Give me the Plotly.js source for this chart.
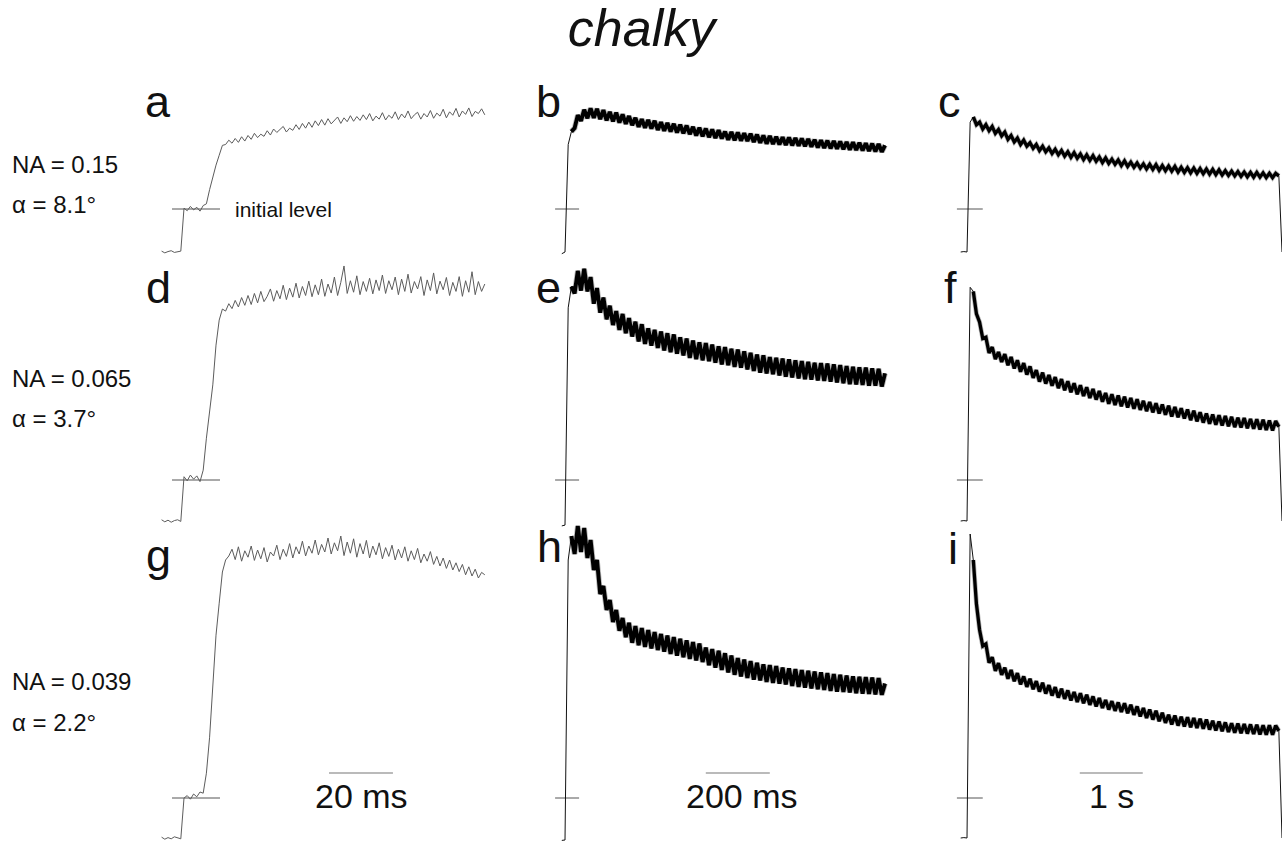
<!DOCTYPE html>
<html><head><meta charset="utf-8">
<script src="https://cdn.plot.ly/plotly-3.0.1.min.js"></script>
<style>html,body{margin:0;padding:0;background:#fff}#chart{width:1282px;height:841px}</style>
</head><body><div id="chart"></div>
<script>
// ---------------- DATA ----------------
// Relative signal: 0 = dark baseline, 1 = initial level.
const panelLetters = ['a','b','c','d','e','f','g','h','i'];
const naLabels = ['NA = 0.15','NA = 0.065','NA = 0.039'];
const alphaLabels = ['\u03b1 = 8.1\u00b0','\u03b1 = 3.7\u00b0','\u03b1 = 2.2\u00b0'];
const scaleBarLengths = [20, 200, 1];
const scaleBarLabels = ['20 ms','200 ms','1 s'];
const initialLevel = 1;
// sampling of each column: start time and step (ms, ms, s)
const sampleStart = [-7, -10, -0.1];
const sampleStep  = [1, 10, 0.05];

// column 1 (ms)
const traceA = [0.02,-0.02,0.01,0.03,-0.01,0.00,0.02,
1.02,0.96,1.06,0.98,1.04,0.95,1.08,
1.12,1.45,1.75,2.02,2.25,2.48,
2.50,2.60,2.53,2.64,2.55,2.68,2.58,2.71,2.62,2.76,
2.66,2.74,2.69,2.82,2.72,2.86,2.78,2.84,2.92,2.79,
2.88,2.83,2.96,2.85,2.99,2.88,3.02,2.90,3.05,2.94,
3.08,2.95,3.10,2.98,3.06,3.14,2.99,3.12,3.03,3.17,
3.04,3.15,3.06,3.19,3.08,3.22,3.05,3.16,3.09,3.24,
3.07,3.18,3.11,3.26,3.08,3.21,3.12,3.28,3.10,3.19,
3.25,3.09,3.22,3.14,3.29,3.11,3.23,3.16,3.32,3.12,
3.26,3.18,3.34,3.14,3.28,3.20,3.35,3.15,3.27,3.22,
3.33,3.19];
const traceD = [0.03,-0.02,0.02,-0.03,0.01,0.03,-0.01,
1.08,0.98,1.12,1.02,1.10,0.96,
1.24,2.02,2.68,3.32,4.29,4.90,5.17,
5.12,5.30,5.18,5.38,5.22,5.45,5.26,5.50,5.28,5.55,
5.32,5.60,5.35,5.48,5.66,5.36,5.62,5.42,5.75,5.40,
5.68,5.46,5.80,5.44,5.72,5.50,5.85,5.47,5.76,5.52,
5.90,5.48,5.78,5.56,5.95,5.50,5.82,6.22,5.55,5.86,
5.58,5.98,5.52,5.84,5.60,5.92,5.54,5.88,5.62,6.00,
5.55,5.86,5.64,5.95,5.52,5.90,5.60,6.02,5.56,5.84,
5.66,5.96,5.50,5.88,5.62,6.05,5.54,5.85,5.64,5.94,
5.50,5.82,5.60,5.96,5.48,5.86,5.58,6.08,5.52,5.84,
5.60,5.78];
const traceG = [0.02,-0.03,0.01,-0.02,0.03,0.00,-0.02,
1.00,1.06,0.97,1.10,1.03,1.15,
1.12,1.62,2.52,3.87,5.07,5.87,6.65,6.95,7.05,
7.22,6.96,7.28,6.92,7.18,7.02,7.30,6.94,7.20,6.98,
7.26,6.90,7.15,7.05,7.32,6.96,7.22,7.04,7.36,7.00,
7.28,7.10,7.42,7.05,7.30,7.12,7.45,7.08,7.34,7.15,
7.50,7.10,7.38,7.18,7.55,7.06,7.40,7.12,7.48,7.02,
7.36,7.10,7.44,7.00,7.30,7.08,7.38,6.98,7.26,7.04,
7.32,6.95,7.22,7.00,7.28,6.92,7.18,6.96,7.24,6.88,
7.10,6.92,7.16,6.84,7.04,6.80,7.00,6.74,6.95,6.70,
6.88,6.66,6.84,6.58,6.78,6.55,6.72,6.50,6.64,6.58];

// column 2 (ms)
const traceB = [-0.04,0.00,2.50,2.80,2.88,3.18,3.05,3.31,3.11,3.34,
3.12,3.33,3.09,3.30,3.06,3.26,3.04,3.24,3.01,3.20,
2.98,3.16,2.95,3.12,2.91,3.09,2.89,3.07,2.87,3.05,
2.84,3.02,2.82,3.00,2.80,2.98,2.78,2.96,2.76,2.94,
2.74,2.91,2.71,2.89,2.69,2.87,2.67,2.85,2.65,2.83,
2.64,2.80,2.61,2.79,2.60,2.78,2.59,2.76,2.58,2.75,
2.56,2.73,2.54,2.71,2.52,2.70,2.51,2.68,2.50,2.67,
2.49,2.66,2.48,2.65,2.47,2.64,2.46,2.63,2.45,2.61,
2.43,2.60,2.42,2.59,2.41,2.58,2.40,2.57,2.39,2.56,
2.38,2.55,2.37,2.54,2.36,2.53,2.35,2.52,2.34,2.51,
2.33,2.48];
const traceE = [-0.12,-0.10,5.20,5.72,5.55,6.10,5.62,6.15,5.60,5.95,
5.30,5.68,5.08,5.45,4.92,5.25,4.78,5.12,4.66,5.05,
4.58,4.95,4.50,4.86,4.38,4.80,4.32,4.70,4.28,4.66,
4.22,4.62,4.16,4.58,4.12,4.55,4.08,4.48,4.04,4.45,
3.98,4.40,3.95,4.36,3.92,4.34,3.90,4.30,3.86,4.26,
3.82,4.24,3.80,4.20,3.76,4.18,3.74,4.14,3.70,4.10,
3.66,4.06,3.62,4.04,3.60,4.00,3.58,3.98,3.55,3.96,
3.52,3.94,3.50,3.92,3.48,3.90,3.46,3.88,3.45,3.86,
3.43,3.85,3.42,3.84,3.40,3.82,3.38,3.80,3.36,3.78,
3.34,3.76,3.33,3.75,3.32,3.74,3.30,3.72,3.30,3.71,
3.28,3.60];
const traceH = [-0.06,-0.05,6.95,7.55,7.10,7.80,7.15,7.75,7.00,7.45,
6.70,6.95,6.10,6.30,5.70,5.95,5.40,5.70,5.18,5.50,
5.02,5.38,4.88,5.30,4.82,5.25,4.78,5.20,4.74,5.15,
4.70,5.10,4.66,5.06,4.60,5.02,4.56,4.98,4.52,4.94,
4.48,4.90,4.44,4.86,4.40,4.76,4.32,4.72,4.26,4.68,
4.20,4.62,4.14,4.56,4.08,4.50,4.04,4.46,4.00,4.42,
3.96,4.38,3.94,4.34,3.90,4.32,3.88,4.30,3.86,4.26,
3.84,4.24,3.80,4.22,3.78,4.20,3.76,4.18,3.74,4.16,
3.72,4.14,3.70,4.12,3.68,4.10,3.66,4.08,3.65,4.06,
3.64,4.04,3.62,4.03,3.61,4.02,3.60,4.01,3.59,4.00,
3.58,3.86];

// column 3 (s)
const traceC = [0.00,0.01,0.00,3.02,3.14,2.96,3.02,2.86,2.96,2.82,
2.92,2.76,2.85,2.70,2.79,2.62,2.71,2.56,2.65,2.50,
2.60,2.46,2.54,2.41,2.50,2.36,2.46,2.33,2.42,2.29,
2.39,2.26,2.36,2.23,2.33,2.20,2.31,2.18,2.28,2.15,
2.26,2.13,2.24,2.11,2.21,2.08,2.19,2.06,2.16,2.04,
2.14,2.01,2.12,1.99,2.09,1.97,2.07,1.95,2.05,1.93,
2.04,1.92,2.03,1.90,2.01,1.89,2.00,1.88,1.99,1.86,
1.97,1.85,1.96,1.84,1.95,1.83,1.94,1.82,1.93,1.81,
1.92,1.80,1.91,1.79,1.89,1.78,1.88,1.77,1.87,1.76,
1.86,1.75,1.85,1.74,1.85,1.74,1.84,1.73,1.83,1.73,
1.83,1.77,0.00];
const traceF = [0.00,0.01,0.00,5.70,5.60,5.05,4.85,4.45,4.48,4.10,
4.24,3.95,4.12,3.88,4.07,3.80,4.00,3.72,3.92,3.64,
3.85,3.57,3.77,3.49,3.68,3.40,3.62,3.35,3.56,3.30,
3.51,3.24,3.46,3.19,3.41,3.14,3.36,3.09,3.31,3.05,
3.26,3.00,3.22,2.96,3.17,2.91,3.12,2.86,3.09,2.83,
3.06,2.80,3.03,2.77,3.00,2.74,2.97,2.71,2.93,2.68,
2.90,2.65,2.87,2.62,2.84,2.59,2.81,2.55,2.78,2.53,
2.75,2.50,2.72,2.46,2.69,2.43,2.65,2.40,2.62,2.37,
2.60,2.35,2.58,2.33,2.56,2.31,2.54,2.29,2.52,2.28,
2.51,2.26,2.49,2.25,2.48,2.23,2.47,2.22,2.45,2.21,
2.44,2.30,0.00];
const traceI = [0.00,0.01,0.00,7.60,6.95,5.85,5.20,4.80,4.85,4.38,
4.52,4.18,4.37,4.08,4.26,3.98,4.20,3.92,4.12,3.84,
4.04,3.78,3.98,3.72,3.92,3.66,3.88,3.61,3.82,3.56,
3.77,3.51,3.73,3.48,3.69,3.44,3.65,3.40,3.62,3.37,
3.58,3.33,3.54,3.29,3.50,3.25,3.45,3.21,3.42,3.18,
3.39,3.15,3.37,3.12,3.33,3.08,3.29,3.04,3.25,3.00,
3.21,2.96,3.18,2.92,3.13,2.88,3.08,2.84,3.06,2.81,
3.03,2.79,3.02,2.77,3.00,2.75,2.98,2.73,2.96,2.71,
2.93,2.69,2.91,2.67,2.89,2.65,2.87,2.63,2.86,2.62,
2.85,2.61,2.84,2.60,2.83,2.59,2.82,2.58,2.82,2.58,
2.81,2.68,0.00];

const panelTraces = [traceA, traceB, traceC, traceD, traceE, traceF, traceG, traceH, traceI];

// ---------------- LAYOUT GEOMETRY ----------------
const W = 1282, H = 841;
const FONT = '"Liberation Sans", Arial, Helvetica, sans-serif';
const cols = [{p0:140,p1:505,zero:184,k:3.2},{p0:525,p1:905,zero:565,k:0.32},{p0:925,p1:1282,zero:967,k:63}];
const rows = [{top:80,bot:268,zero:252,k:43},{top:262,bot:540,zero:521,k:41},{top:515,bot:841,zero:838,k:40}];
// thin line for the whole record; a heavier stroke (with a soft grey halo) over the noisy part
const thinStyle = [{color:'#5c5c5c',width:1},{color:'#111',width:1},{color:'#111',width:1}];
const haloStyle = [null,{color:'rgba(0,0,0,0.28)',width:5.6},{color:'rgba(0,0,0,0.28)',width:4.8}];
const bandStyle = [null,{color:'#000',width:3.9},{color:'#000',width:3.3}];
const bandFrom = [0, 3, 4];     // index where the dense band starts
const bandTrimEnd = [0, 0, 1];  // points dropped at the end (final fall to baseline)
const levelMarks = [[-3.75,11.25],[-31,44],[-0.16,0.25]];
const barStart = [45.3, 440, 1.79];
const barLevel = 1.625;
const letterPos = [[158,117],[548,117],[949,117],[158,303],[548,303],[950,303],[158,571],[549,562],[953,564]];

const layout = {
  width: W, height: H, margin: {l:0,r:0,t:0,b:0},
  paper_bgcolor: '#fff', plot_bgcolor: 'rgba(0,0,0,0)',
  showlegend: false, hovermode: false,
  font: {family: FONT, color: '#111'},
  title: {text: '<i>chalky</i>', font: {family: FONT, size: 52, color: '#111'},
          x: 641.5/W, xanchor: 'center', y: 1 - 28/H, yanchor: 'middle', yref: 'container'},
  annotations: []
};
const data = [];

for (let r = 0; r < 3; r++) {
  for (let c = 0; c < 3; c++) {
    const n = r*3 + c + 1;
    const col = cols[c], row = rows[r];
    const xa = 'xaxis' + (n === 1 ? '' : n), ya = 'yaxis' + (n === 1 ? '' : n);
    const xr = 'x' + (n === 1 ? '' : n), yr = 'y' + (n === 1 ? '' : n);
    layout[xa] = {domain: [col.p0/W, col.p1/W], range: [(col.p0-col.zero)/col.k, (col.p1-col.zero)/col.k],
                  visible: false, fixedrange: true, anchor: yr};
    layout[ya] = {domain: [1-row.bot/H, 1-row.top/H], range: [(row.zero-row.bot)/row.k, (row.zero-row.top)/row.k],
                  visible: false, fixedrange: true, anchor: xr};
    // initial level mark
    data.push({type:'scatter', mode:'lines', xaxis:xr, yaxis:yr,
      x: levelMarks[c], y: [initialLevel, initialLevel],
      line: {color:'#555', width:1}});
    const ys = panelTraces[n-1];
    // full record, thin
    data.push({type:'scatter', mode:'lines', xaxis:xr, yaxis:yr,
      x0: sampleStart[c], dx: sampleStep[c], y: ys,
      line: {color: thinStyle[c].color, width: thinStyle[c].width}});
    // dense noisy band
    if (bandStyle[c]) {
      const i0 = bandFrom[c], i1 = ys.length - bandTrimEnd[c];
      const seg = {x0: sampleStart[c] + i0*sampleStep[c], dx: sampleStep[c], y: ys.slice(i0, i1)};
      data.push(Object.assign({type:'scatter', mode:'lines', xaxis:xr, yaxis:yr,
        line: {color: haloStyle[c].color, width: haloStyle[c].width, join:'round'}}, seg));
      data.push(Object.assign({type:'scatter', mode:'lines', xaxis:xr, yaxis:yr,
        line: {color: bandStyle[c].color, width: bandStyle[c].width, join:'round'}}, seg));
    }
    // scale bars on last row
    if (r === 2) {
      data.push({type:'scatter', mode:'lines', xaxis:xr, yaxis:yr,
        x: [barStart[c], barStart[c] + scaleBarLengths[c]], y: [barLevel, barLevel],
        line: {color:'#777', width:1.2}});
    }
  }
}

function ann(text, px, pyBaseline, size, extra) {
  const o = Object.assign({text: text, xref:'paper', yref:'paper', x: px/W,
    y: 1 - (pyBaseline - 0.3465*size)/H, xanchor:'center', yanchor:'middle',
    showarrow:false, font:{family: FONT, size: size, color:'#111'}}, extra || {});
  layout.annotations.push(o);
}
// panel letters
panelLetters.forEach((L, i) => ann(L, letterPos[i][0], letterPos[i][1], 45));
// NA / alpha labels
const naBase = [173, 387, 690];
const alBase = [213, 427, 731];
naLabels.forEach((t, i) => {
  ann(t, 10, naBase[i], 24, {xanchor:'left'});
  ann(alphaLabels[i], 10, alBase[i], 24, {xanchor:'left'});
});
// "initial level"
ann('initial level', 233, 217, 21, {xanchor:'left'});
// scale bar labels
const labelX = [361, 742, 1111];
scaleBarLabels.forEach((t, i) => ann(t, labelX[i], 808, 34));

Plotly.newPlot('chart', data, layout, {staticPlot: true, displayModeBar: false});
</script>
</body></html>
